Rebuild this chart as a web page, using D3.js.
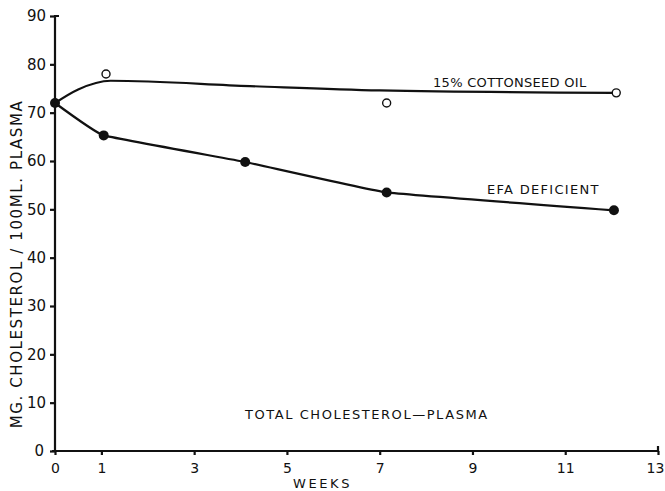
<!DOCTYPE html>
<html>
<head>
<meta charset="utf-8">
<script src="https://cdn.jsdelivr.net/npm/d3@7"></script>
<style>
  body { margin: 0; background: #fff; }
  text { font-family: "DejaVu Sans", sans-serif; fill: #111; }
  .line { fill: none; stroke: #111; stroke-width: 2.2; }
  .axis path, .axis line { stroke: #111; stroke-width: 2.2; }
</style>
</head>
<body>
<div id="chart"></div>
<script>
// weeks on diet, values in mg cholesterol / 100 ml plasma
var xTicks = [0, 1, 3, 5, 7, 9, 11, 13]
var yTicks = [0, 10, 20, 30, 40, 50, 60, 70, 80, 90]

// 15% cottonseed oil (open circles)
var cottonWeeks = [1.1, 7.15, 12.1]
var cottonVals = [78, 72, 74.1]
// fitted curve drawn through the cottonseed group
var cottonFitWeeks = [0, 0.5, 1.2, 4.2, 7, 12.05]
var cottonFitVals = [72, 74.8, 76.6, 75.5, 74.6, 74.1]

// EFA deficient (filled circles)
var efaWeeks = [0, 1.05, 4.1, 7.15, 12.05]
var efaVals = [72, 65.3, 59.8, 53.5, 49.8]

var width = 665, height = 491

var svg = d3.select("#chart").append("svg")
  .attr("width", width)
  .attr("height", height)

svg.append("rect").attr("width", width).attr("height", height).attr("fill", "#fff")

var x = d3.scaleLinear().domain([0, 13]).range([55, 658])
var y = d3.scaleLinear().domain([0, 90]).range([451, 16])

// x axis
var xAxis = svg.append("g")
  .attr("class", "axis")
  .attr("transform", "translate(0," + y(0) + ")")
  .call(d3.axisBottom(x).tickValues(xTicks).tickSize(4).tickSizeOuter(0))
xAxis.selectAll("text").attr("dy", "1.1em").style("font-size", "14px")
// last label sits at the page edge, pull it in a bit
xAxis.selectAll(".tick").filter(function(d) { return d === 13 }).select("text").attr("dx", "-3px")
xAxis.select(".domain").attr("d", "M" + (x(0) - 3) + ",0H" + x(13) + "V-5")

// y axis
var yAxis = svg.append("g")
  .attr("class", "axis")
  .attr("transform", "translate(" + x(0) + ",0)")
  .call(d3.axisLeft(y).tickValues(yTicks).tickSize(5).tickSizeOuter(0))
yAxis.selectAll("text").attr("dx", "-1px").style("font-size", "15px")
yAxis.select(".domain").attr("d", "M4," + y(90) + "H0V" + (y(0) + 1))
yAxis.selectAll(".tick").filter(function(d) { return d === 0 }).select("text").attr("x", -10)

// lines
var lineGen = d3.line()
  .x(function(d) { return x(d[0]) })
  .y(function(d) { return y(d[1]) })
  .curve(d3.curveMonotoneX)

var efaLine = d3.line()
  .x(function(d) { return x(d[0]) })
  .y(function(d) { return y(d[1]) })
  .curve(d3.curveCardinal.tension(0.75))

svg.append("path")
  .datum(d3.zip(cottonFitWeeks, cottonFitVals))
  .attr("class", "line")
  .attr("d", lineGen)

svg.append("path")
  .datum(d3.zip(efaWeeks, efaVals))
  .attr("class", "line")
  .attr("d", efaLine)

// markers
svg.selectAll(".open")
  .data(d3.zip(cottonWeeks, cottonVals))
  .enter().append("circle")
  .attr("class", "open")
  .attr("cx", function(d) { return x(d[0]) })
  .attr("cy", function(d) { return y(d[1]) })
  .attr("r", 4)
  .attr("fill", "#fff")
  .attr("stroke", "#111")
  .attr("stroke-width", 1.4)

svg.selectAll(".filled")
  .data(d3.zip(efaWeeks, efaVals))
  .enter().append("circle")
  .attr("class", "filled")
  .attr("cx", function(d) { return x(d[0]) })
  .attr("cy", function(d) { return y(d[1]) })
  .attr("r", 5)
  .attr("fill", "#111")

// labels
svg.append("text")
  .attr("x", 433).attr("y", 87)
  .style("font-size", "13px").style("letter-spacing", "0.3px")
  .text("15% COTTONSEED OIL")

svg.append("text")
  .attr("x", 487).attr("y", 194)
  .style("font-size", "13px").style("letter-spacing", "1.3px")
  .text("EFA DEFICIENT")

svg.append("text")
  .attr("x", 245).attr("y", 419)
  .style("font-size", "13px").style("letter-spacing", "1.55px")
  .text("TOTAL CHOLESTEROL\u2014PLASMA")

svg.append("text")
  .attr("x", 293).attr("y", 488)
  .style("font-size", "13px").style("letter-spacing", "2.6px")
  .text("WEEKS")

svg.append("text")
  .attr("transform", "translate(22,264) rotate(-90)")
  .attr("text-anchor", "middle")
  .style("font-size", "15px").style("letter-spacing", "1.6px")
  .text("MG. CHOLESTEROL / 100ML. PLASMA")
</script>
</body>
</html>
